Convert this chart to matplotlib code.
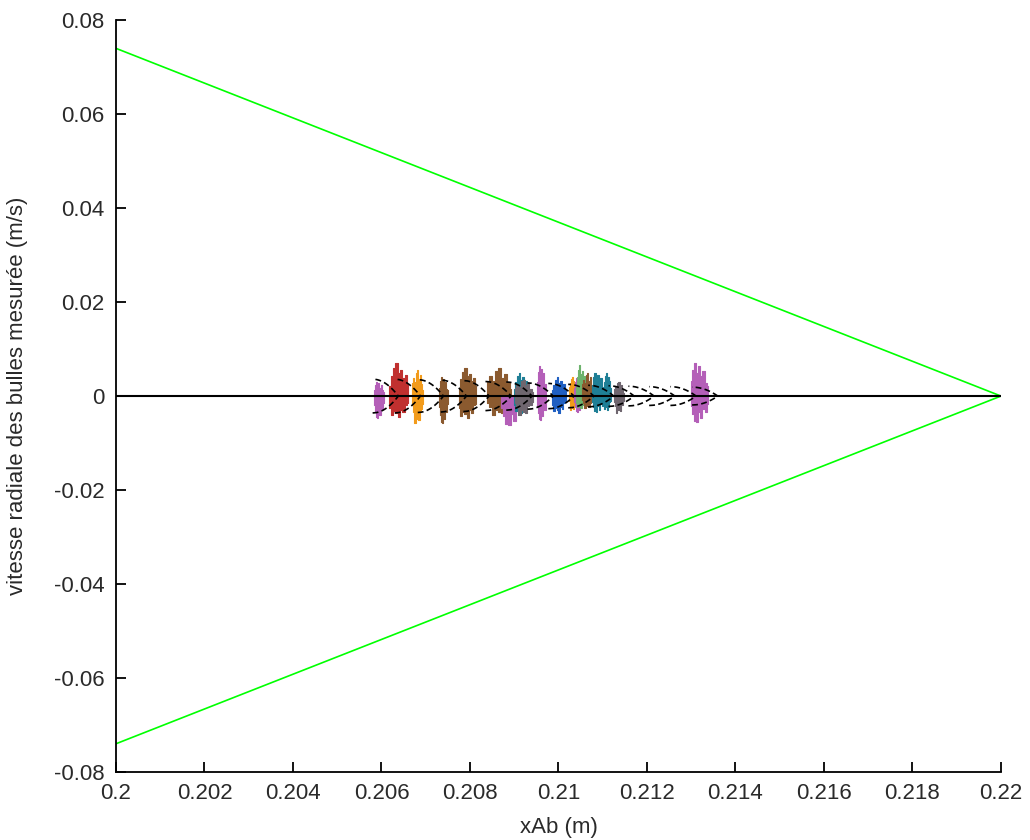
import numpy as np
import matplotlib.pyplot as plt

plt.rcParams['font.family'] = ['Liberation Sans', 'DejaVu Sans']

# enveloppe (cone) en vert
cone_x = [0.2, 0.22]
cone_top = [0.0740, 0.0]
cone_bot = [-0.0740, 0.0]

# arcs (contours des bulles) : position de l'apex, demi-hauteur
arc_x = [0.20638, 0.20688, 0.20740, 0.20792, 0.20843, 0.20893, 0.20940, 0.20988,
         0.21035, 0.21080, 0.21125, 0.21171, 0.21216, 0.21263, 0.21311, 0.21360]
arc_h = [0.0036, 0.0036, 0.0035, 0.0034, 0.0033, 0.0031, 0.0030, 0.0028,
         0.0027, 0.0025, 0.0023, 0.0022, 0.0021, 0.0020, 0.0020, 0.0019]
arc_depth = 0.00058

# vitesses mesurees par bulle : x min, x max, v max, v min, couleur
bub_x0 = [0.20583, 0.20618, 0.20670, 0.20730, 0.20776, 0.20839, 0.20871, 0.20900,
          0.20902, 0.20952, 0.20986, 0.21024, 0.21035, 0.21040, 0.21054, 0.21076,
          0.21103, 0.21126, 0.21300]
bub_x1 = [0.20605, 0.20660, 0.20694, 0.20750, 0.20813, 0.20893, 0.20919, 0.20931,
          0.20942, 0.20972, 0.21017, 0.21039, 0.21055, 0.21062, 0.21078, 0.21103,
          0.21118, 0.21148, 0.21337]
bub_top = [0.0030, 0.0070, 0.0055, 0.0040, 0.0060, 0.0060, 0.0000, 0.0050,
           0.0035, 0.0065, 0.0040, 0.0040, 0.0038, 0.0066, 0.0050, 0.0050,
           0.0050, 0.0030, 0.0070]
bub_bot = [-0.0047, -0.0045, -0.0057, -0.0057, -0.0047, -0.0040, -0.0062, -0.0036,
           -0.0040, -0.0051, -0.0036, -0.0030, -0.0034, -0.0026, -0.0026, -0.0034,
           -0.0030, -0.0036, -0.0055]
bub_col = ['#b45fb8', '#c0302f', '#f29b1b', '#8b5a2f', '#8b5a2f', '#8b5a2f', '#b45fb8',
           '#1f7f96', '#6f666f', '#b45fb8', '#1f5fc2', '#f29b1b', '#b45fb8', '#6db36d',
           '#8b5a2f', '#1f7f96', '#1f7f96', '#6f666f', '#b45fb8']

prof_top = [[0.45, 0.8, 1.0, 0.7, 0.9, 0.6, 0.75, 0.4, 0.3],
            [0.3, 0.6, 0.85, 1.0, 0.7, 0.8, 0.55, 0.65, 0.35],
            [0.5, 0.7, 0.55, 0.9, 1.0, 0.65, 0.8, 0.45, 0.25]]
prof_bot = [[0.4, 0.7, 0.95, 1.0, 0.6, 0.85, 0.5, 0.6, 0.3],
            [0.55, 0.9, 0.7, 0.8, 1.0, 0.65, 0.75, 0.4, 0.35],
            [0.35, 0.6, 1.0, 0.75, 0.85, 0.9, 0.55, 0.5, 0.3]]

fig = plt.figure(figsize=(10.3, 8.4), dpi=100)
ax = fig.add_axes([0.1126, 0.081, 0.8592, 0.895])

ax.plot(cone_x, cone_top, color='#00ff00', lw=1.2)
ax.plot(cone_x, cone_bot, color='#00ff00', lw=1.2)

for i in range(len(bub_x0)):
    pt = np.array(prof_top[i % 3])
    pb = np.array(prof_bot[i % 3])
    xs = np.linspace(bub_x0[i], bub_x1[i], len(pt))
    ax.fill_between(xs, bub_bot[i] * pb, bub_top[i] * pt, step='mid',
                    color=bub_col[i], lw=0.8, edgecolor=bub_col[i])

ax.plot([0.2, 0.22], [0, 0], color='black', lw=1.5)

# arcs en tirets (pointe a droite)
for xa, h in zip(arc_x, arc_h):
    yy = np.linspace(-h, h, 81)
    xx = xa - arc_depth + arc_depth * np.sqrt(1 - np.abs(yy) / h)
    ax.plot(xx, yy, color='black', lw=1.2, ls=(0, (3.5, 2)))

ax.set_xlim(0.2, 0.22)
ax.set_ylim(-0.08, 0.08)
ax.set_xticks(np.arange(0.2, 0.2201, 0.002))
ax.set_xticklabels(['0.2', '0.202', '0.204', '0.206', '0.208', '0.21', '0.212',
                    '0.214', '0.216', '0.218', '0.22'])
ax.set_yticks(np.arange(-0.08, 0.0801, 0.02))
ax.set_yticklabels(['-0.08', '-0.06', '-0.04', '-0.02', '0', '0.02', '0.04',
                    '0.06', '0.08'])
ax.spines['top'].set_visible(False)
ax.spines['right'].set_visible(False)
ax.spines['left'].set_linewidth(1.3)
ax.spines['bottom'].set_linewidth(1.3)
ax.tick_params(direction='in', length=7, width=1.3, labelsize=16,
               labelcolor='#2a2a2a', pad=8)

ax.set_xlabel('xAb (m)', fontsize=16, color='#2a2a2a', labelpad=9)
ax.set_ylabel('vitesse radiale des bulles mesurée (m/s)', fontsize=16,
              color='#2a2a2a')
ax.yaxis.set_label_coords(-0.099, 0.5)

fig.savefig('out.png', dpi=100)
